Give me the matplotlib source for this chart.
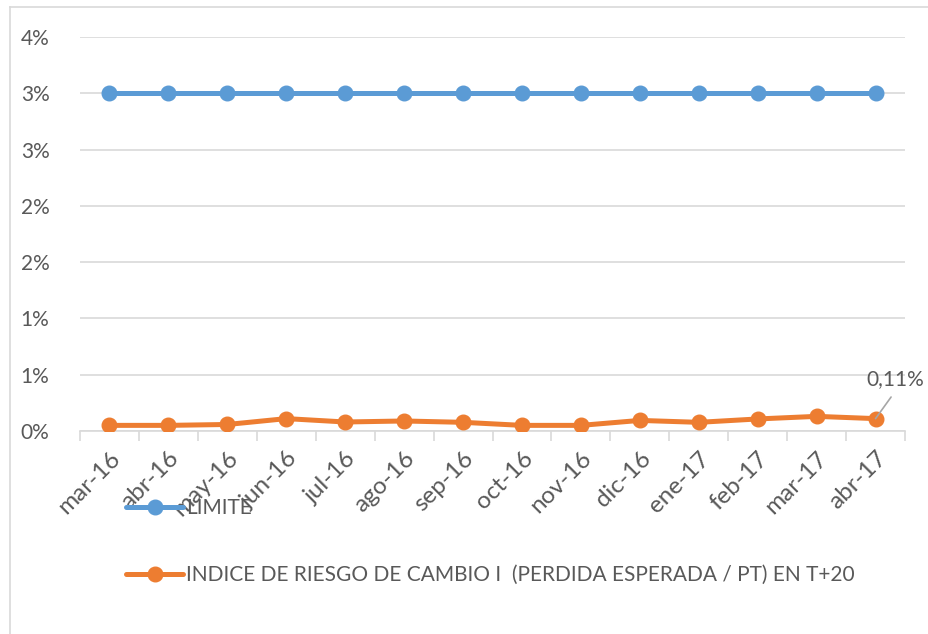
import matplotlib
matplotlib.use("Agg")
import matplotlib.pyplot as plt
from matplotlib.lines import Line2D
from matplotlib.ticker import FuncFormatter, MultipleLocator

plt.rcParams['font.family'] = ['Lato', 'DejaVu Sans']

months = ["mar-16", "abr-16", "may-16", "jun-16", "jul-16", "ago-16", "sep-16",
          "oct-16", "nov-16", "dic-16", "ene-17", "feb-17", "mar-17", "abr-17"]
limite = [3.0] * 14
indice = [0.05, 0.05, 0.058, 0.11, 0.08, 0.089, 0.077,
          0.05, 0.05, 0.094, 0.077, 0.107, 0.13, 0.11]
label_limite = "LIMITE"
label_indice = "INDICE DE RIESGO DE CAMBIO I  (PERDIDA ESPERADA / PT) EN T+20"
last_label = "0,11%"

text_col = "#595959"
grid_col = "#d9d9d9"
blue = "#5b9bd5"
orange = "#ed7d31"
fs = 15

W, H = 929, 634
fig = plt.figure(figsize=(W / 100, H / 100), dpi=100)
ax = fig.add_axes([80 / W, (H - 431) / H, (905 - 80) / W, (431 - 37) / H])

x = list(range(len(months)))
ax.plot(x, limite, color=blue, lw=3.6, marker='o', ms=10.5, label=label_limite,
        solid_capstyle='round', zorder=3)
ax.plot(x, indice, color=orange, lw=3.6, marker='o', ms=10.5, label=label_indice,
        solid_capstyle='round', zorder=3)

ax.set_xlim(-0.5, len(months) - 0.5)
ax.set_ylim(0, 3.5)
ax.yaxis.set_major_locator(MultipleLocator(0.5))
ax.yaxis.set_major_formatter(FuncFormatter(lambda v, p: f"{int(v + 0.5)}%"))
ax.grid(axis='y', color=grid_col, lw=1.2)
ax.set_axisbelow(True)
for s in ['top', 'right', 'left']:
    ax.spines[s].set_visible(False)
ax.spines['bottom'].set_color(grid_col)
ax.spines['bottom'].set_linewidth(1.2)

ax.set_xticks(x)
ax.set_xticklabels(months, rotation=45, ha='right', rotation_mode='anchor')
ax.set_xticks([i - 0.5 for i in range(len(months) + 1)], minor=True)
ax.tick_params(axis='x', which='major', length=0, pad=12, labelsize=17.5, labelcolor=text_col)
ax.tick_params(axis='x', which='minor', length=7, width=1.2, color=grid_col)
ax.tick_params(axis='y', length=0, pad=22, labelsize=fs, labelcolor=text_col)

ax.annotate(last_label, xy=(x[-1], indice[-1]), xytext=(-9, 40), textcoords='offset pixels',
            fontsize=fs, color=text_col, ha='left', va='center',
            arrowprops=dict(arrowstyle='-', color='#a6a6a6', lw=1.2, shrinkA=5, shrinkB=0,
                            relpos=(0.53, 0)))

fig.legend(loc='upper left', bbox_to_anchor=(126 / W, 1 - 498 / H), frameon=False,
           fontsize=fs, labelcolor=text_col, handlelength=2.75, handletextpad=0.15,
           labelspacing=2.27, borderpad=0, borderaxespad=0)

# chart frame (left and top edges visible)
fig.add_artist(Line2D([10 / W, 10 / W], [0, 1 - 7 / H], transform=fig.transFigure,
                      color=grid_col, lw=1.2))
fig.add_artist(Line2D([10 / W, 1], [1 - 7 / H, 1 - 7 / H], transform=fig.transFigure,
                      color=grid_col, lw=1.2))

fig.savefig("out.png", dpi=100)
